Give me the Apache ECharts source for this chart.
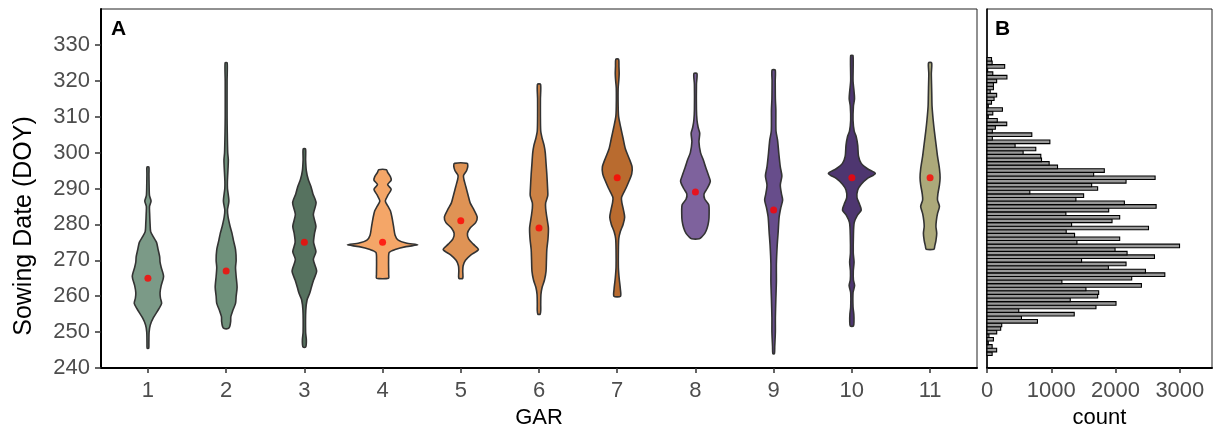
<!DOCTYPE html>
<html lang="en">
<head>
    <meta charset="UTF-8">
    <title>Sowing Date by GAR</title>
    <script src="https://cdn.jsdelivr.net/npm/echarts@6/dist/echarts.min.js"></script>
    <style>
        * {
            margin: 0;
            padding: 0;
        }

        html, body {
            width: 100%;
            height: 100%;
            overflow: hidden;
            background: #fff;
        }

        .chart {
            width: 1221px;
            height: 430px;
        }
    </style>
</head>
<body>
<div class="chart"></div>
<script>
    // GAR groups and their mean sowing date (red dots)
    let gar = [1, 2, 3, 4, 5, 6, 7, 8, 9, 10, 11];
    let means = [265, 267, 275, 275, 281, 279, 293, 289, 284, 293, 293];
    let colors = ['#7b9a87', '#6f917b', '#56725f', '#f4a668', '#df9355', '#cc8245',
        '#b96b2f', '#7e629d', '#674d8b', '#4e3670', '#aca97a'];

    // violin outlines: [DOY, half width in GAR units], read from top to bottom
    let shape1 = [[296, 0.012], [294, 0.013], [291, 0.015], [288, 0.02], [286.5, 0.04], [285, 0.02], [283, 0.022],
        [280, 0.028], [278, 0.035], [276.5, 0.07], [275, 0.11], [273, 0.13], [271, 0.15], [269.5, 0.155], [268, 0.17],
        [265.5, 0.2], [263, 0.17], [261, 0.155], [259.5, 0.16], [258, 0.175], [256.5, 0.14], [254, 0.07], [252, 0.03],
        [250, 0.015], [247, 0.012], [245.5, 0.01]];
    let shape2 = [[325, 0.013], [320, 0.012], [310, 0.012], [306, 0.014], [300, 0.02], [298, 0.028], [296, 0.025],
        [292, 0.016], [290, 0.017], [286.5, 0.035], [284, 0.017], [282, 0.025], [279.5, 0.05], [277.5, 0.075],
        [275.5, 0.094], [273, 0.12], [270, 0.128], [268, 0.12], [265.5, 0.128], [262.5, 0.14], [260, 0.128],
        [258, 0.12], [256, 0.085], [254.3, 0.06], [253, 0.058], [251.5, 0.045], [251, 0.025]];
    let shape3 = [[301, 0.015], [298, 0.016], [295, 0.025], [292.5, 0.05], [290.5, 0.085], [288.5, 0.11], [286, 0.15],
        [282.8, 0.115], [279.5, 0.148], [277.5, 0.13], [275, 0.118], [272.4, 0.148], [270.2, 0.115], [267, 0.157],
        [264.5, 0.118], [262.5, 0.09], [260.8, 0.068], [259, 0.035], [256, 0.018], [250, 0.016], [248, 0.025],
        [246.5, 0.024], [245.8, 0.015]];
    let shape4 = [[295.2, 0.05], [294.5, 0.065], [293.3, 0.1], [292.3, 0.11], [291.1, 0.065], [289.8, 0.11],
        [288.2, 0.07], [286.5, 0.035], [285, 0.07], [283.8, 0.1], [282, 0.12], [279.5, 0.14], [277, 0.16],
        [275.6, 0.2], [274.8, 0.3], [274.3, 0.45], [273.8, 0.3], [273, 0.16], [272.2, 0.085], [270, 0.077],
        [266, 0.078], [265, 0.077]];
    let shape5 = [[297, 0.08], [296.3, 0.09], [295, 0.075], [293.6, 0.035], [292.5, 0.04], [290.5, 0.065], [288, 0.095],
        [286, 0.12], [284, 0.17], [282, 0.21], [280.5, 0.19], [279, 0.12], [277.5, 0.085], [276, 0.1], [274.5, 0.16],
        [273, 0.225], [271.5, 0.13], [270, 0.06], [268.5, 0.03], [267, 0.025], [265, 0.025]];
    let shape6 = [[319, 0.02], [315, 0.018], [310, 0.018], [306, 0.022], [304, 0.04], [302, 0.065], [300, 0.08],
        [297, 0.09], [294, 0.1], [290, 0.11], [288, 0.112], [286, 0.085], [284.5, 0.085], [282, 0.1], [279, 0.12],
        [276, 0.115], [273, 0.1], [270, 0.095], [267, 0.09], [264.5, 0.07], [262.5, 0.04], [260.5, 0.025],
        [258, 0.022], [256, 0.022], [255, 0.015]];
    let shape7 = [[326, 0.018], [324, 0.022], [322, 0.025], [320, 0.02], [318, 0.012], [313, 0.012], [310, 0.018],
        [307, 0.045], [304, 0.075], [301, 0.105], [298.5, 0.15], [296, 0.19], [294, 0.185], [292, 0.15], [290, 0.11],
        [287.5, 0.055], [286, 0.06], [284, 0.08], [282, 0.095], [280, 0.075], [278, 0.04], [276, 0.02], [273, 0.015],
        [268, 0.015], [265, 0.025], [262, 0.04], [260, 0.042]];
    let shape8 = [[322, 0.02], [319, 0.013], [312, 0.013], [309, 0.02], [307, 0.035], [305.4, 0.055], [303, 0.045],
        [300, 0.065], [298, 0.1], [296, 0.13], [293.5, 0.17], [292, 0.19], [290, 0.15], [288.5, 0.11], [287, 0.12],
        [285.5, 0.17], [283, 0.175], [281, 0.17], [279, 0.15], [277.5, 0.12], [276.5, 0.08], [276, 0.05]];
    let shape9 = [[323, 0.02], [320, 0.02], [315, 0.022], [312, 0.028], [306, 0.03], [303.5, 0.05], [300, 0.065],
        [296, 0.085], [293.5, 0.105], [291, 0.085], [288.5, 0.1], [286.8, 0.115], [284.5, 0.09], [282, 0.07],
        [278, 0.058], [274, 0.045], [269, 0.035], [264, 0.035], [259, 0.028], [254, 0.022], [250, 0.022],
        [246, 0.014], [244, 0.01]];
    let shape10 = [[327, 0.015], [320, 0.015], [317, 0.028], [315, 0.034], [313, 0.02], [309, 0.015], [306, 0.03],
        [304.5, 0.055], [302, 0.075], [299, 0.085], [297, 0.12], [295.5, 0.2], [294.2, 0.3], [292.8, 0.2],
        [291.2, 0.12], [289.6, 0.075], [287.5, 0.065], [285.5, 0.1], [284, 0.12], [282.5, 0.07], [280.5, 0.03],
        [277, 0.02], [272, 0.018], [269.5, 0.028], [267, 0.018], [264.5, 0.02], [263, 0.035], [261, 0.015],
        [257, 0.015], [255, 0.025], [253, 0.027], [251.7, 0.02]];
    let shape11 = [[325, 0.02], [322, 0.016], [318, 0.02], [316, 0.022], [313, 0.025], [309, 0.04], [306, 0.055],
        [302.5, 0.075], [299, 0.095], [295.5, 0.12], [293, 0.128], [291, 0.12], [288.5, 0.1], [286.8, 0.095],
        [285, 0.12], [283, 0.095], [281, 0.08], [279.4, 0.075], [277.5, 0.085], [275.5, 0.075], [274, 0.06],
        [273.1, 0.05]];
    let shapes = [shape1, shape2, shape3, shape4, shape5, shape6, shape7, shape8, shape9, shape10, shape11];

    // histogram of sowing dates (1-day bins)
    let histDays = [244, 245, 246, 247, 248, 249, 250, 251, 252, 253, 254, 255, 256, 257, 258, 259, 260, 261, 262, 263,
        264, 265, 266, 267, 268, 269, 270, 271, 272, 273, 274, 275, 276, 277, 278, 279, 280, 281, 282, 283,
        284, 285, 286, 287, 288, 289, 290, 291, 292, 293, 294, 295, 296, 297, 298, 299, 300, 301, 302, 303,
        304, 305, 306, 307, 308, 309, 310, 311, 312, 313, 314, 315, 316, 317, 318, 319, 320, 321, 322, 323,
        324, 325, 326];
    let histCounts = [80, 150, 80, 20, 100, 30, 151, 213, 229, 785, 536, 1357, 494, 1695, 2007, 1295, 1721, 1737, 1539, 2402,
        1165, 2251, 2766, 2465, 1888, 2163, 1471, 2605, 2179, 1992, 2995, 1399, 2064, 1362, 1232, 2512, 1316, 1945, 2064, 1227,
        1893, 2631, 2137, 1383, 1503, 666, 1721, 1628, 2163, 2615, 1659, 1825, 1097, 967, 848, 837, 562, 759, 437, 978,
        83, 697, 83, 130, 307, 160, 20, 90, 240, 20, 70, 110, 150, 50, 100, 100, 150, 310, 90, 10,
        275, 80, 70];

    let yTicks = [240, 250, 260, 270, 280, 290, 300, 310, 320, 330];
    let countTicks = [0, 1000, 2000, 3000];

    let font = "'Liberation Sans', Arial, sans-serif";
    let labelStyle = {fontSize: 22, color: '#4d4d4d', fontFamily: font};
    let nameStyle = {fontSize: 22, color: '#000', fontFamily: font};

    let chart = echarts.init(document.querySelector('.chart'));

    let option = {
        backgroundColor: '#fff',
        animation: false,
        title: [
            {text: 'A', left: 106, top: 14, textStyle: {fontSize: 21, fontWeight: 'bold', color: '#000', fontFamily: font}},
            {text: 'B', left: 990, top: 14, textStyle: {fontSize: 21, fontWeight: 'bold', color: '#000', fontFamily: font}}
        ],
        // y axis title sits a little below the panel centre in the original
        graphic: [{
            type: 'text',
            x: 24, y: 226,
            rotation: Math.PI / 2,
            style: {
                text: 'Sowing Date (DOY)', fill: '#000', fontSize: 25, fontFamily: font,
                align: 'center', verticalAlign: 'middle'
            }
        }],
        grid: [
            {
                left: 101, top: 9, width: 876, height: 359, outerBoundsMode: 'none',
                show: true, borderColor: '#222', borderWidth: 1
            },
            {
                left: 987, top: 9, width: 225, height: 359, outerBoundsMode: 'none',
                show: true, borderColor: '#222', borderWidth: 1
            }
        ],
        xAxis: [
            {
                gridIndex: 0, type: 'value', min: 0.4, max: 11.6,
                name: 'GAR', nameLocation: 'middle', nameGap: 39, nameTextStyle: nameStyle,
                axisLine: {show: true, lineStyle: {color: '#000', width: 2}},
                axisTick: {show: true, length: 5, lineStyle: {color: '#333', width: 1.5}, customValues: gar},
                axisLabel: Object.assign({margin: 12, customValues: gar}, labelStyle),
                splitLine: {show: false}
            },
            {
                gridIndex: 1, type: 'value', min: 0, max: 3500,
                name: 'count', nameLocation: 'middle', nameGap: 38, nameTextStyle: nameStyle,
                axisLine: {show: true, lineStyle: {color: '#000', width: 2}},
                axisTick: {show: true, length: 5, lineStyle: {color: '#333', width: 1.5}, customValues: countTicks},
                axisLabel: Object.assign({
                    margin: 12, customValues: countTicks,
                    formatter: v => String(v)
                }, labelStyle),
                splitLine: {show: false}
            }
        ],
        yAxis: [
            {
                gridIndex: 0, type: 'value', min: 240, max: 340,
                axisLine: {show: true, lineStyle: {color: '#000', width: 2}},
                axisTick: {show: true, length: 6, lineStyle: {color: '#333', width: 1.5}, customValues: yTicks},
                axisLabel: Object.assign({margin: 11, customValues: yTicks}, labelStyle),
                splitLine: {show: false}
            },
            {
                gridIndex: 1, type: 'value', min: 240, max: 340,
                axisLine: {show: true, lineStyle: {color: '#000', width: 1.5}},
                axisTick: {show: false},
                axisLabel: {show: false},
                splitLine: {show: false}
            }
        ],
        series: [
            {
                type: 'custom',
                xAxisIndex: 0, yAxisIndex: 0,
                data: gar.map((g, i) => [g, means[i]]),
                encode: {x: 0, y: 1},
                renderItem: function (params, api) {
                    let i = params.dataIndex;
                    let g = api.value(0);
                    let pts = shapes[i];
                    let right = pts.map(p => api.coord([g + p[1], p[0]]));
                    let left = pts.slice().reverse().map(p => api.coord([g - p[1], p[0]]));
                    return {
                        type: 'polygon',
                        shape: {points: right.concat(left), smooth: 0.25},
                        style: {fill: colors[i], stroke: '#333', lineWidth: 1.6}
                    };
                },
                z: 2
            },
            {
                type: 'scatter',
                xAxisIndex: 0, yAxisIndex: 0,
                data: gar.map((g, i) => [g, means[i]]),
                symbolSize: 7,
                itemStyle: {color: '#ff0000'},
                z: 5
            },
            {
                type: 'custom',
                xAxisIndex: 1, yAxisIndex: 1,
                data: histDays.map((d, i) => [histCounts[i], d]),
                encode: {x: 0, y: 1},
                renderItem: function (params, api) {
                    let c = api.value(0);
                    let d = api.value(1);
                    let p0 = api.coord([0, d + 0.5]);
                    let p1 = api.coord([c, d - 0.5]);
                    return {
                        type: 'rect',
                        shape: {x: p0[0], y: p0[1], width: p1[0] - p0[0], height: p1[1] - p0[1]},
                        style: {fill: '#999999', stroke: '#000', lineWidth: 1.1}
                    };
                }
            }
        ]
    };
    chart.setOption(option);
</script>
</body>
</html>
